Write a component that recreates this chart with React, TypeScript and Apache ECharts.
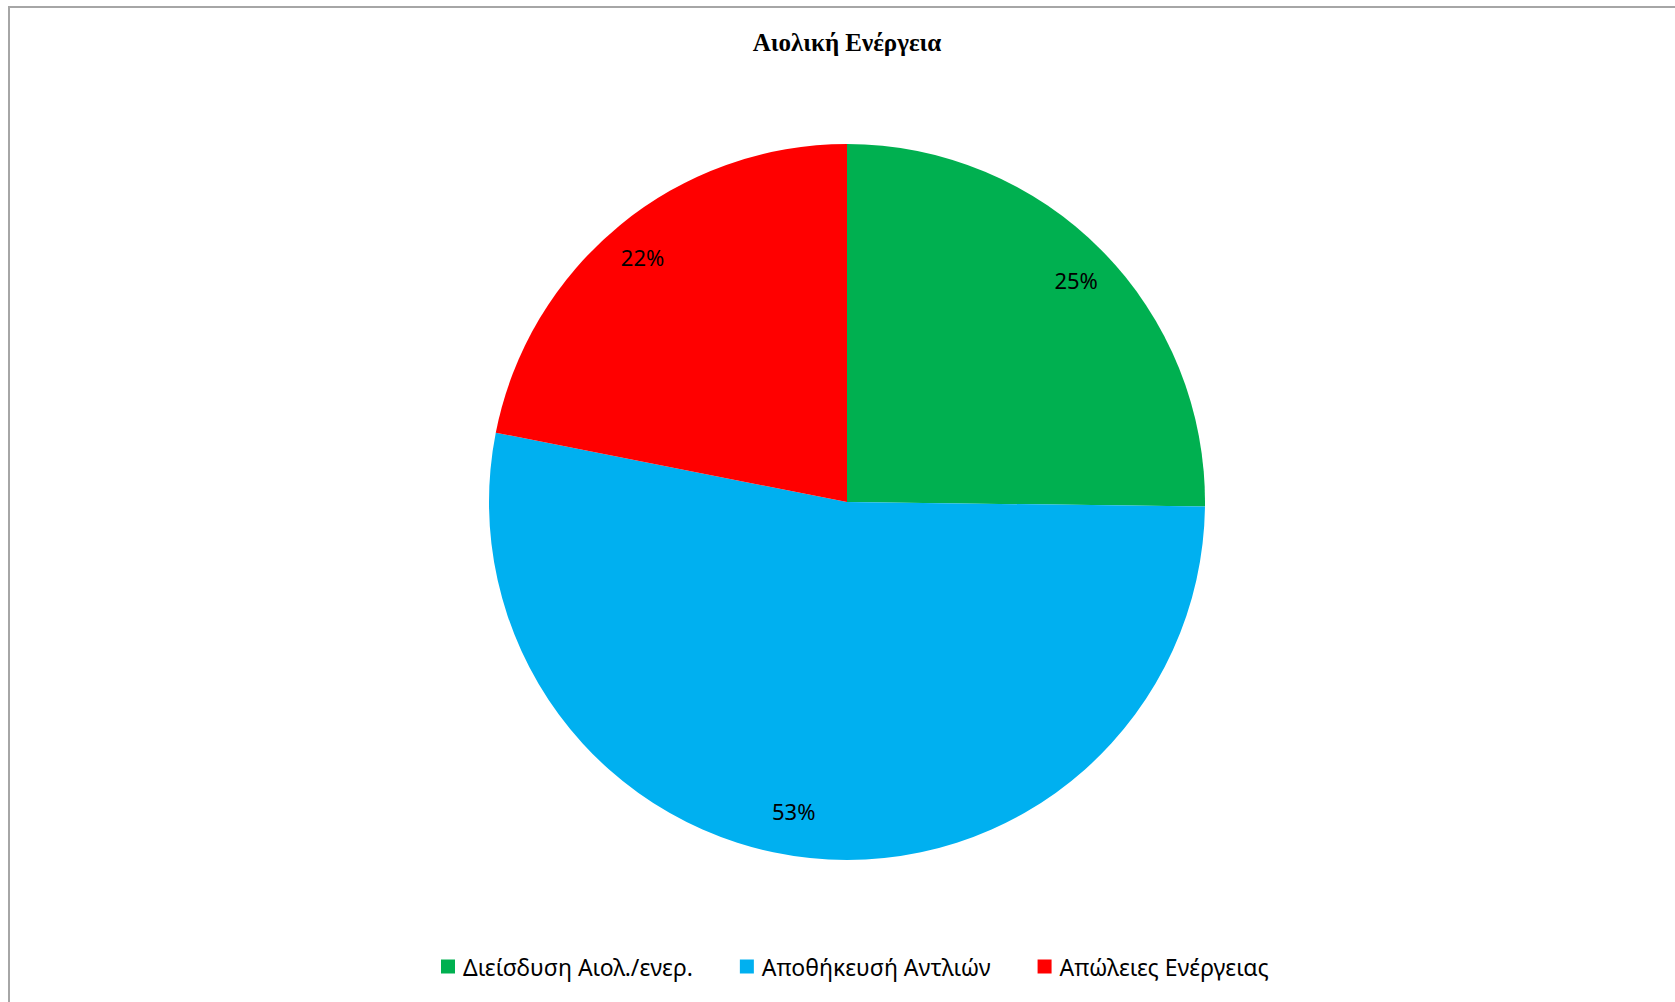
import React, { useEffect, useRef } from "react";
import * as echarts from "echarts";

const chartTitle = "Αιολική Ενέργεια";
const categories = ["Διείσδυση Αιολ./ενερ.", "Αποθήκευσή Αντλιών", "Απώλειες Ενέργειας"];
const values = [25.2, 52.9, 21.9];
const colors = ["#00B050", "#00B0F0", "#FF0000"];

export default function App() {
  const ref = useRef<HTMLDivElement>(null);
  useEffect(() => {
    if (!ref.current) return;
    const chart = echarts.init(ref.current, null, { renderer: "svg" });
    const data = categories.map((name, i) => ({ name, value: values[i], itemStyle: { color: colors[i] } }));
    const labelOffsets: [number, number][] = [[0, 4], [-20, -11], [0, 4]];
    chart.setOption({
      animation: false,
      backgroundColor: "#ffffff",
      title: {
        text: chartTitle,
        left: 842,
        textAlign: "center",
        top: 25,
        textStyle: { fontFamily: "Liberation Serif", fontWeight: "bold", fontSize: 25, color: "#000" },
      },
      legend: {
        bottom: 19,
        left: 436,
        itemWidth: 14,
        itemHeight: 14,
        itemGap: 47,
        icon: "rect",
        data: categories,
        textStyle: { fontFamily: "Noto Sans", fontSize: 23, color: "#000", padding: [0, 0, 0, 3] },
      },
      graphic: [
        {
          type: "rect",
          shape: { x: 9, y: 7, width: 1700, height: 1100 },
          style: { fill: "none", stroke: "#a6a6a6", lineWidth: 2 },
          silent: true,
        },
      ],
      series: [
        {
          type: "pie",
          center: [847, 502],
          radius: [0, 358],
          startAngle: 90,
          clockwise: true,
          label: { show: false },
          labelLine: { show: false },
          emphasis: { disabled: true },
          data,
        },
        {
          type: "pie",
          center: [847, 502],
          radius: [280, 358],
          startAngle: 90,
          clockwise: true,
          silent: true,
          itemStyle: { color: "transparent" },
          label: {
            show: true,
            position: "inside",
            formatter: (p: any) => Math.round(p.percent) + "%",
            fontFamily: "Noto Sans",
            fontSize: 22,
            color: "#000",
          },
          labelLine: { show: false },
          emphasis: { disabled: true },
          data: categories.map((name, i) => ({
            name,
            value: values[i],
            itemStyle: { color: "transparent" },
            label: { offset: labelOffsets[i] },
          })),
        },
      ],
    });
    return () => chart.dispose();
  }, []);
  return <div ref={ref} style={{ position: "fixed", left: 0, top: 0, width: 1675, height: 1002 }} />;
}
